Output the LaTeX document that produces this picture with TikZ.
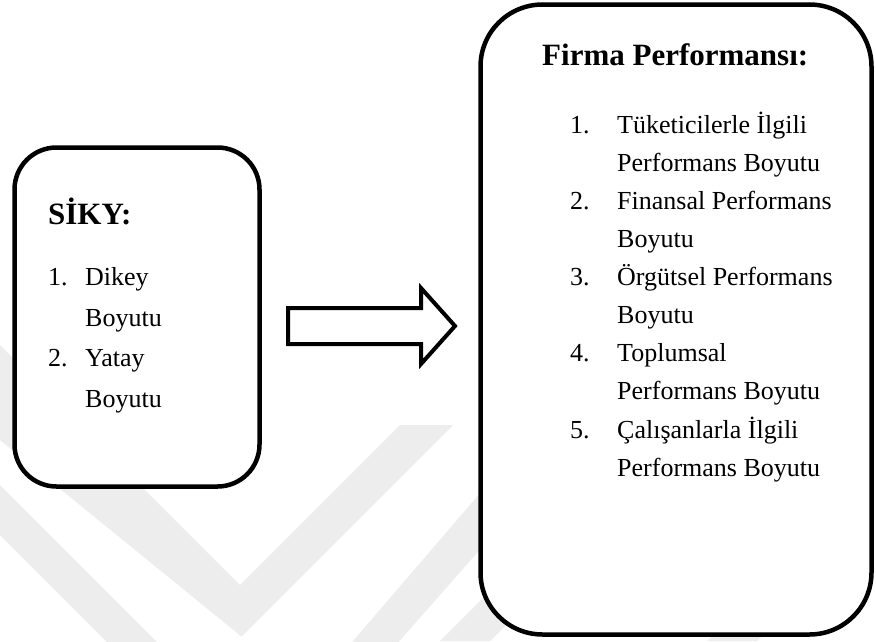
\documentclass[tikz,border=0pt]{standalone}
\usepackage{fontspec}
\setmainfont{Liberation Serif}
\begin{document}
\begin{tikzpicture}[x=1pt,y=-1pt,
  panel/.style={draw=black, line width=4.5pt, fill=white, inner sep=0pt},
  heading/.style={anchor=base west, inner sep=0pt, font=\fontsize{31}{31}\selectfont\bfseries},
  entry/.style={anchor=base west, inner sep=0pt, font=\fontsize{26}{26}\selectfont},
  wm/.style={fill=black!7},
  blockarrow/.style={draw=black, line width=4pt, fill=white, line join=miter}
]
\useasboundingbox (0,0) rectangle (876,641);
\fill[white] (0,0) rectangle (876,641);

% faint background logo made of chevron bands
\begin{scope}
  \clip (0,0) rectangle (876,641);
  \fill[wm] (0,345) -- (240,585) -- (400,425) -- (453,425) -- (241.5,636.5) -- (0,440) -- cycle;
  \fill[wm] (0,485) -- (262,747) -- (500,470) -- (550,470) -- (262,797) -- (0,535) -- cycle;
  \fill[wm] (440,641) -- (520,561) -- (570,561) -- (490,641) -- cycle;
  \fill[wm] (707,641) -- (760,588) -- (810,588) -- (757,641) -- cycle;
\end{scope}

% the two panels
\node[panel, rounded corners=42pt, minimum width=245pt, minimum height=339pt] (siky) at (137,317) {};
\node[panel, rounded corners=62pt, minimum width=391pt, minimum height=630pt] (firma) at (676,319.5) {};

% block arrow between the panels
\coordinate (a1) at (288,308);
\coordinate (a2) at (421,308);
\coordinate (a3) at (421,288);
\coordinate (tip) at (455,326);
\coordinate (a5) at (421,364);
\coordinate (a6) at (421,344);
\coordinate (a7) at (288,344);
\draw[blockarrow] (a1) -- (a2) -- (a3) -- (tip) -- (a5) -- (a6) -- (a7) -- cycle;

% left panel text
\node[heading] (t1) at (48,224) {SİKY:};
\node[entry] (n11) at (48,285) {1.};
\node[entry] (e11) at (85,285) {Dikey};
\node[entry] (e12) at (85,326) {Boyutu};
\node[entry] (n12) at (48,366) {2.};
\node[entry] (e13) at (85,366) {Yatay};
\node[entry] (e14) at (85,407) {Boyutu};

% right panel text
\node[heading] (t2) at (542,65) {Firma Performansı:};
\node[entry] (n21) at (570,133) {1.};
\node[entry] (f1) at (617,133) {Tüketicilerle İlgili};
\node[entry] (f2) at (617,171) {Performans Boyutu};
\node[entry] (n22) at (570,209) {2.};
\node[entry] (f3) at (617,209) {Finansal Performans};
\node[entry] (f4) at (617,247) {Boyutu};
\node[entry] (n23) at (570,285) {3.};
\node[entry] (f5) at (617,285) {Örgütsel Performans};
\node[entry] (f6) at (617,323) {Boyutu};
\node[entry] (n24) at (570,361) {4.};
\node[entry] (f7) at (617,361) {Toplumsal};
\node[entry] (f8) at (617,399) {Performans Boyutu};
\node[entry] (n25) at (570,438) {5.};
\node[entry] (f9) at (617,438) {Çalışanlarla İlgili};
\node[entry] (f10) at (617,476) {Performans Boyutu};
\end{tikzpicture}
\end{document}
